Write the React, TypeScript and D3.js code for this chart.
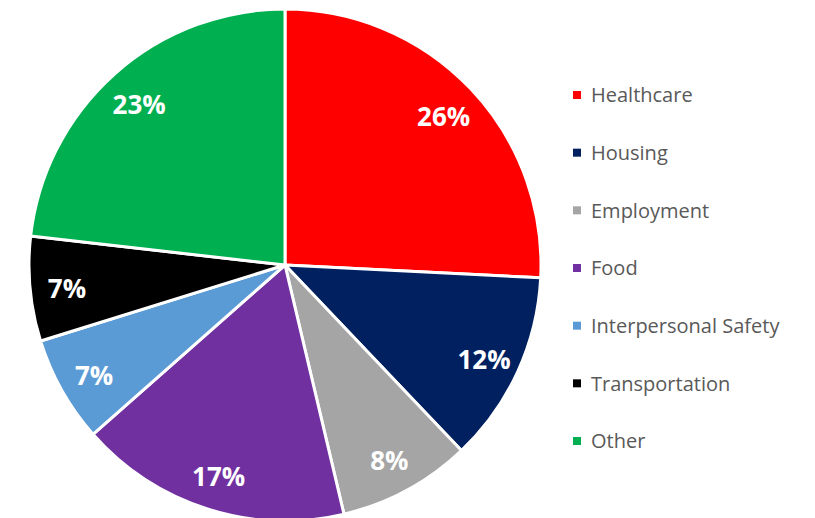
import React from "react";
import * as d3 from "d3";

const categories = ["Healthcare", "Housing", "Employment", "Food", "Interpersonal Safety", "Transportation", "Other"];
const values = [25.8, 12.1, 8.4, 17.2, 6.7, 6.6, 23.2];
const colors = ["#FF0000", "#002060", "#A5A5A5", "#7030A0", "#5B9BD5", "#000000", "#00B050"];

const W = 815;
const H = 518;
const cx = 285;
const cy = 265;
const R = 256;
const labelR = 219;

export default function App() {
  const data = categories.map((c, i) => ({ cat: c, value: values[i], color: colors[i] }));
  const pie = d3.pie<any>().value((d: any) => d.value).sort(null);
  const arcs = pie(data);
  const arc = d3.arc<any>().innerRadius(0).outerRadius(R);
  const labelArc = d3.arc<any>().innerRadius(labelR).outerRadius(labelR);
  const total = d3.sum(values);

  const legendY = d3.scalePoint<string>().domain(categories).range([95, 441]);

  return (
    <div style={{ position: "fixed", left: 0, top: 0 }}>
      <svg width={W} height={H} style={{ display: "block", background: "#fff" }}>
        <g transform={`translate(${cx},${cy})`}>
          {arcs.map((a, i) => (
            <path key={i} d={arc(a) as string} fill={a.data.color} stroke="#fff" strokeWidth={3} strokeLinejoin="round" />
          ))}
          {arcs.map((a, i) => {
            const [x, y] = labelArc.centroid(a);
            return (
              <text
                key={"l" + i}
                x={x}
                y={y + 3}
                dy="0.36em"
                textAnchor="middle"
                fill="#fff"
                fontFamily="'Open Sans', sans-serif"
                fontWeight={700}
                fontSize={26}
              >
                {Math.round((a.data.value / total) * 100) + "%"}
              </text>
            );
          })}
        </g>
        <g>
          {categories.map((c, i) => {
            const y = legendY(c) as number;
            return (
              <g key={"lg" + i}>
                <rect x={573} y={y - 4} width={8} height={8} fill={colors[i]} />
                <text
                  x={591}
                  y={y}
                  dy="0.36em"
                  fill="#595959"
                  fontFamily="'Open Sans', sans-serif"
                  fontSize={20}
                >
                  {c}
                </text>
              </g>
            );
          })}
        </g>
      </svg>
    </div>
  );
}
